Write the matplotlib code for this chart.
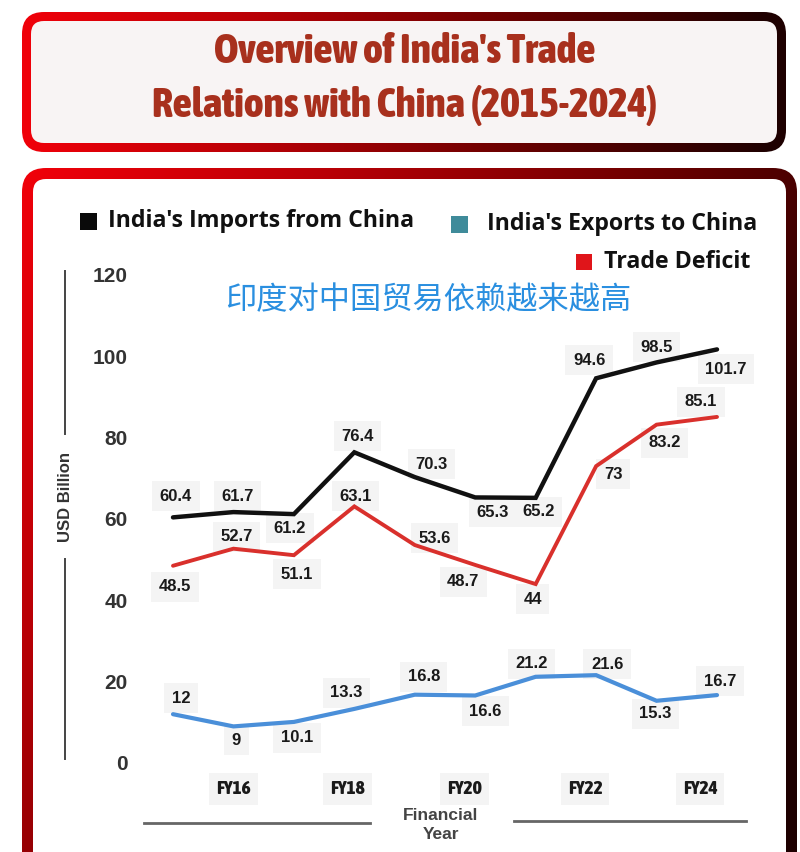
import numpy as np
import matplotlib.pyplot as plt
from matplotlib import font_manager, transforms
from matplotlib.font_manager import FontProperties
from matplotlib.patches import FancyBboxPatch, Rectangle
from matplotlib.colors import LinearSegmentedColormap

years = ['FY15', 'FY16', 'FY17', 'FY18', 'FY19', 'FY20', 'FY21', 'FY22', 'FY23', 'FY24']
imports = [60.4, 61.7, 61.2, 76.4, 70.3, 65.3, 65.2, 94.6, 98.5, 101.7]
exports = [12, 9, 10.1, 13.3, 16.8, 16.6, 21.2, 21.6, 15.3, 16.7]
deficit = [48.5, 52.7, 51.1, 63.1, 53.6, 48.7, 44, 73, 83.2, 85.1]
tick_years = ['FY16', 'FY18', 'FY20', 'FY22', 'FY24']
yticks = [0, 20, 40, 60, 80, 100, 120]

# label offsets from each point, in pixels (x right, y down)
imp_off = [(3, -21), (4, -16), (-4, 14), (3, -16), (17, -13), (17, 15), (3, 14), (-7, -18), (0, -15), (9, 20)]
def_off = [(2, 21), (3, -12), (3, 19), (1, -10), (20, -7), (-12, 17), (-3, 15), (17, 8), (8, 18), (-16, -15)]
exp_off = [(8, -16), (3, 14), (3, 16), (-8, -16), (9, -18), (10, 16), (-4, -13), (11, -11), (-1, 13), (3, -14)]

arial = 'Liberation Sans'
body = 'Open Sans'


def find_condensed_bold():
    # look for any installed condensed / narrow bold face for the poster title
    order = {'ultra-condensed': 0, 'extra-condensed': 1, 'condensed': 2, 'semi-condensed': 3}
    best = None
    for f in font_manager.fontManager.ttflist:
        st = f.stretch if isinstance(f.stretch, str) else ''
        name_hit = 'ondensed' in f.name or 'Narrow' in f.name or 'ondensed' in f.fname or 'Narrow' in f.fname
        if st not in order and not name_hit:
            continue
        w = f.weight if isinstance(f.weight, int) else (700 if 'bold' in str(f.weight).lower() else 400)
        if w < 600 or f.style != 'normal':
            continue
        rank = (order.get(st, 2), abs(w - 800))
        if best is None or rank < best[0]:
            best = (rank, f.fname)
    return best[1] if best else None


cond_path = find_condensed_bold()
if cond_path:
    title_font = FontProperties(fname=cond_path, size=30)
    tick_font = FontProperties(fname=cond_path, size=14)
else:
    title_font = FontProperties(family=arial, weight='bold', size=25)
    tick_font = FontProperties(family=arial, weight='bold', size=11)

W, H = 800, 852
fig = plt.figure(figsize=(W / 100, H / 100), dpi=100)
fig.patch.set_facecolor('white')

ax_bg = fig.add_axes([0, 0, 1, 1])
ax_bg.set_xlim(0, W)
ax_bg.set_ylim(H, 0)
ax_bg.axis('off')

cmap = LinearSegmentedColormap.from_list('redblack', ['#f5000a', '#b80006', '#6a0000', '#1e0000'])
X, Y = np.meshgrid(np.linspace(0, W, 400), np.linspace(0, H, 426))


def gradient_box(x0, y0, x1, y1, r, border, inner, tgrid):
    outer = FancyBboxPatch((x0, y0), x1 - x0, y1 - y0,
                           boxstyle=f"round,pad=0,rounding_size={r}",
                           facecolor='none', edgecolor='none')
    ax_bg.add_patch(outer)
    im = ax_bg.imshow(tgrid, cmap=cmap, vmin=0, vmax=1, extent=(0, W, H, 0),
                      aspect='auto', interpolation='bilinear', zorder=1)
    im.set_clip_path(outer)
    ax_bg.add_patch(FancyBboxPatch((x0 + border, y0 + border),
                                   x1 - x0 - 2 * border, y1 - y0 - 2 * border,
                                   boxstyle=f"round,pad=0,rounding_size={r - border}",
                                   facecolor=inner, edgecolor='none', zorder=2))


gradient_box(22, 12, 786, 152, 22, 9, '#f8f4f4', np.clip(X / 770, 0, 1))
gradient_box(22, 168, 797, 900, 24, 11, 'white',
             np.clip(0.8 * X / 800 + 0.45 * (Y - 168) / 684, 0, 1))
ax_bg.set_xlim(0, W)
ax_bg.set_ylim(H, 0)

# title
for ty, line in [(52, "Overview of India's Trade"), (105, "Relations with China (2015-2024)")]:
    ax_bg.text(405, ty, line, ha='center', va='center', color='#a8301d',
               fontproperties=title_font, zorder=5)

# legend
leg_kw = dict(ha='left', va='center', fontsize=16.7, fontweight='bold',
              color='#111111', family=body, zorder=5)
ax_bg.add_patch(Rectangle((80, 213), 17, 17, facecolor='#0a0a0a', zorder=5))
ax_bg.text(108, 221, "India's Imports from China", **leg_kw)
ax_bg.add_patch(Rectangle((451, 216), 17, 17, facecolor='#3f8b9a', zorder=5))
ax_bg.text(487, 224, "India's Exports to China", **leg_kw)
ax_bg.add_patch(Rectangle((576, 254), 16, 16, facecolor='#e0151a', zorder=5))
ax_bg.text(604, 262, "Trade Deficit", **leg_kw)

ax_bg.text(428, 300, '印度对中国贸易依赖越来越高', ha='center', va='center', fontsize=22.5,
           color='#2a8fe0', family=['Noto Sans CJK SC', 'DejaVu Sans'], zorder=5)

# y axis label with rules
ax_bg.text(65, 497, 'USD Billion', rotation=90, ha='center', va='center', fontsize=12,
           fontweight='bold', color='#333333', family=arial, zorder=5)
ax_bg.plot([65, 65], [271, 434], color='#444444', lw=1.4, zorder=5)
ax_bg.plot([65, 65], [559, 759], color='#444444', lw=1.4, zorder=5)

# x axis label with rules
ax_bg.text(441, 825, 'Financial\nYear', ha='center', va='center', fontsize=12.5,
           fontweight='bold', color='#444444', family=arial, linespacing=1.35, zorder=5)
ax_bg.plot([144, 370], [823, 823], color='#666666', lw=2, zorder=5)
ax_bg.plot([514, 746], [821, 821], color='#666666', lw=2, zorder=5)

# main chart
x0_px, x9_px, y0_px, y120_px = 173, 717, 763, 275
step = (x9_px - x0_px) / 9
ax = fig.add_axes([(x0_px - step / 2) / W, (H - y0_px) / H, step * 10 / W, (y0_px - y120_px) / H])
ax.set_facecolor('none')
ax.set_zorder(3)
xs = np.arange(len(years))
ax.plot(xs, imports, color='#111111', lw=3.2, solid_capstyle='round', solid_joinstyle='miter')
ax.plot(xs, deficit, color='#d9302c', lw=2.8, solid_capstyle='round', solid_joinstyle='miter')
ax.plot(xs, exports, color='#4a8fd9', lw=3, solid_capstyle='round', solid_joinstyle='miter')
ax.set_xlim(-0.5, 9.5)
ax.set_ylim(0, 120)
for s in ax.spines.values():
    s.set_visible(False)

ax.set_yticks(yticks)
ax.tick_params(axis='y', length=0, pad=11, labelsize=15, labelcolor='#333333')
for lab in ax.get_yticklabels():
    lab.set_fontfamily(arial)
    lab.set_fontweight('bold')

ax.set_xticks([years.index(t) for t in tick_years])
ax.set_xticklabels(tick_years)
ax.tick_params(axis='x', length=0, pad=12, labelcolor='#1a1a1a')
tick_shift = [0, -7, -11, -11, -17]
for lab, dx in zip(ax.get_xticklabels(), tick_shift):
    lab.set_fontproperties(tick_font)
    lab.set_bbox(dict(facecolor='#f4f4f4', edgecolor='none', pad=5))
    lab.set_transform(lab.get_transform() + transforms.ScaledTranslation(dx / 100, 0, fig.dpi_scale_trans))

box = dict(boxstyle='square,pad=0.45', facecolor='#f4f4f4', edgecolor='none')
for series, offs in [(imports, imp_off), (deficit, def_off), (exports, exp_off)]:
    for i, (v, (dx, dy)) in enumerate(zip(series, offs)):
        ax.annotate(f'{v:g}', (i, v), xytext=(dx * 0.72, -dy * 0.72), textcoords='offset points',
                    ha='center', va='center', fontsize=12, fontweight='bold', color='#1a1a1a',
                    family=arial, bbox=box, zorder=1)

fig.savefig('out.png', dpi=100)
